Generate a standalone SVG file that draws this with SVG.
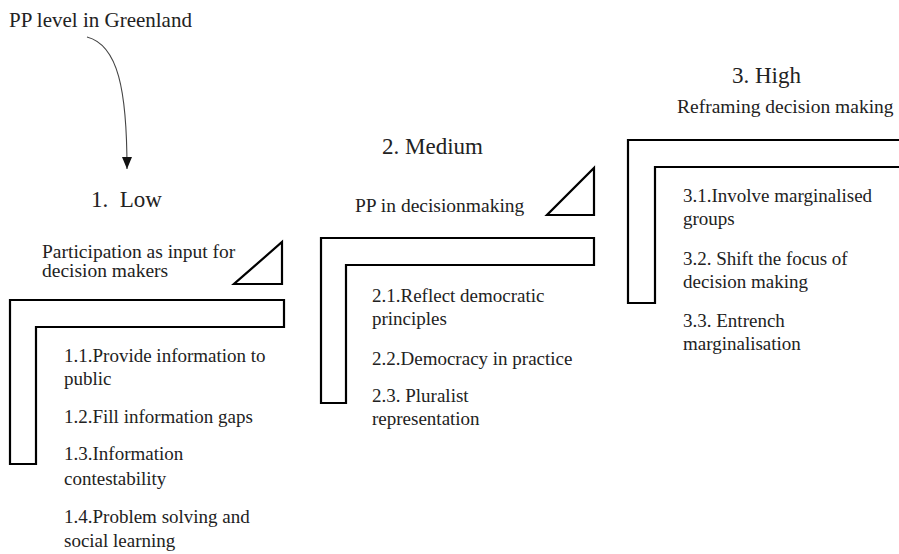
<svg xmlns="http://www.w3.org/2000/svg" width="899" height="554" viewBox="0 0 899 554">
  <defs>
    <marker id="arrow" viewBox="0 0 12 10" refX="12" refY="5" markerWidth="12" markerHeight="10" markerUnits="userSpaceOnUse" orient="auto">
      <path d="M0,0 L12,5 L0,10 Z" fill="#111"/>
    </marker>
    <style>
      .t { font-family: "Liberation Serif", "Times New Roman", Times, "DejaVu Serif", serif; fill: #222; }
      .head { font-size: 23px; }
      .sub { font-size: 19.5px; }
      .item { font-size: 19px; }
      .top { font-size: 21px; }
      .step { fill: #fff; stroke: #000; stroke-width: 2.2; stroke-linejoin: miter; }
      .tri { fill: #fff; stroke: #000; stroke-width: 2.2; stroke-linejoin: miter; }
      .conn { fill: none; stroke: #444; stroke-width: 1.1; }
    </style>
  </defs>
  <rect width="899" height="554" fill="#fff"/>

  <g id="title">
    <text class="t top" x="9" y="27">PP level in Greenland</text>
  </g>

  <g id="connectors">
    <path class="conn" d="M87,37 C118,45 127,90 127,169" marker-end="url(#arrow)"/>
  </g>

  <g id="level1">
    <text class="t head" x="91" y="207" xml:space="preserve">1.  Low</text>
    <text class="t sub" x="42" y="258">Participation as input for</text>
    <text class="t sub" x="42" y="277">decision makers</text>
    <polygon class="tri" points="234,284 282,284 282,242"/>
    <polygon class="step" points="10,300 284,300 284,327 36,327 36,464 10,464"/>
    <text class="t item" x="64" y="362">1.1.Provide information to</text>
    <text class="t item" x="64" y="385">public</text>
    <text class="t item" x="64" y="423">1.2.Fill information gaps</text>
    <text class="t item" x="64" y="460">1.3.Information</text>
    <text class="t item" x="64" y="485">contestability</text>
    <text class="t item" x="64" y="523">1.4.Problem solving and</text>
    <text class="t item" x="64" y="547">social learning</text>
  </g>

  <g id="level2">
    <text class="t head" x="382" y="154">2. Medium</text>
    <text class="t sub" x="355" y="212">PP in decisionmaking</text>
    <polygon class="tri" points="547,215 594,215 594,168"/>
    <polygon class="step" points="321,238 594,238 594,265 346,265 346,403 321,403"/>
    <text class="t item" x="372" y="302">2.1.Reflect democratic</text>
    <text class="t item" x="372" y="325">principles</text>
    <text class="t item" x="372" y="365">2.2.Democracy in practice</text>
    <text class="t item" x="372" y="402">2.3. Pluralist</text>
    <text class="t item" x="372" y="425">representation</text>
  </g>

  <g id="level3">
    <text class="t head" x="732" y="83">3. High</text>
    <text class="t sub" x="677" y="113">Reframing decision making</text>
    <polygon class="step" points="628,140 902,140 902,167 655,167 655,303 628,303"/>
    <text class="t item" x="683" y="202">3.1.Involve marginalised</text>
    <text class="t item" x="683" y="225">groups</text>
    <text class="t item" x="683" y="265">3.2. Shift the focus of</text>
    <text class="t item" x="683" y="288">decision making</text>
    <text class="t item" x="683" y="327">3.3. Entrench</text>
    <text class="t item" x="683" y="350">marginalisation</text>
  </g>
</svg>
